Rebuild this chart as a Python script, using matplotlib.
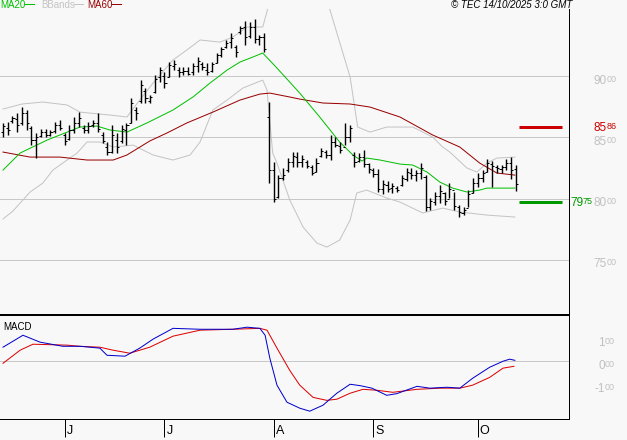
import numpy as np
import pandas as pd
import matplotlib as mpl
mpl.use('Agg')
import matplotlib.pyplot as plt
from matplotlib.lines import Line2D

plt.rcParams['font.family'] = ['Liberation Sans', 'DejaVu Sans']

PX = 0.72  # points per pixel at dpi 100
W, H = 627, 440

# daily bars, 14 May -> 13 Oct 2025
dates = pd.bdate_range("2025-05-14", "2025-10-13")

opens = [8540, 8580, 8630, 8650, 8620, 8700, 8580, 8480, 8510, 8540,
         8520, 8550, 8600, 8520, 8490, 8560, 8620, 8580, 8560, 8600,
         8620, 8520, 8420, 8380, 8480, 8470, 8560, 8620, 8720, 8800,
         8880, 8800, 8870, 8990, 9000, 8990, 9080, 9050, 9030, 9040,
         9030, 9080, 9100, 9050, 9040, 9110, 9170, 9240, 9280, 9240,
         9360, 9400, 9330, 9400, 9300, 9320, 8670, 8230, 8010, 8170,
         8230, 8300, 8340, 8300, 8300, 8260, 8220, 8350, 8380, 8360,
         8460, 8430, 8420, 8500, 8360, 8310, 8340, 8280, 8230, 8200,
         8080, 8110, 8090, 8090, 8110, 8160, 8210, 8190, 8210, 8180,
         7930, 7970, 8020, 8050, 8000, 8070, 7930, 7880, 7920, 8050,
         8130, 8170, 8220, 8280, 8260, 8240, 8260, 8290, 8240]
highs = [8617, 8625, 8674, 8698, 8747, 8723, 8592, 8535, 8568, 8568,
         8560, 8625, 8641, 8535, 8600, 8666, 8706, 8600, 8625, 8641,
         8698, 8543, 8462, 8600, 8535, 8600, 8617, 8821, 8747, 8967,
         8902, 8845, 9008, 9073, 9033, 9114, 9131, 9073, 9073, 9073,
         9106, 9155, 9114, 9106, 9114, 9188, 9237, 9294, 9351, 9253,
         9408, 9449, 9441, 9465, 9334, 9351, 8788, 8299, 8192, 8250,
         8331, 8380, 8380, 8356, 8315, 8274, 8331, 8413, 8396, 8519,
         8502, 8462, 8617, 8600, 8380, 8372, 8396, 8290, 8250, 8242,
         8152, 8144, 8127, 8103, 8192, 8250, 8250, 8233, 8290, 8192,
         8005, 8054, 8111, 8054, 8127, 8054, 7948, 7931, 8070, 8168,
         8209, 8233, 8323, 8307, 8274, 8274, 8323, 8339, 8274]
lows = [8502, 8519, 8617, 8543, 8600, 8560, 8437, 8331, 8502, 8502,
        8510, 8535, 8560, 8437, 8478, 8535, 8584, 8535, 8535, 8584,
        8543, 8454, 8356, 8372, 8372, 8454, 8437, 8617, 8641, 8780,
        8780, 8780, 8861, 8951, 8902, 8992, 9049, 8992, 9008, 9008,
        9008, 9033, 9049, 9008, 9033, 9106, 9155, 9228, 9228, 9155,
        9343, 9253, 9310, 9269, 9253, 9196, 8127, 7972, 8005, 8152,
        8217, 8258, 8258, 8258, 8250, 8192, 8217, 8339, 8331, 8315,
        8421, 8372, 8437, 8462, 8258, 8299, 8258, 8209, 8176, 8054,
        8038, 8054, 8046, 8054, 8103, 8144, 8160, 8144, 8160, 7899,
        7907, 7948, 7964, 7948, 8005, 7907, 7850, 7866, 7931, 8046,
        8095, 8135, 8217, 8095, 8209, 8209, 8233, 8160, 8062]
closes = [8590, 8560, 8660, 8600, 8700, 8620, 8480, 8500, 8540, 8520,
          8545, 8600, 8580, 8470, 8560, 8620, 8660, 8560, 8590, 8620,
          8570, 8470, 8380, 8520, 8420, 8570, 8600, 8780, 8700, 8930,
          8820, 8830, 8980, 9050, 8940, 9090, 9100, 9030, 9040, 9020,
          9080, 9120, 9070, 9030, 9100, 9170, 9220, 9270, 9310, 9200,
          9390, 9320, 9400, 9300, 9320, 9220, 8230, 8000, 8170, 8190,
          8300, 8350, 8300, 8320, 8270, 8210, 8290, 8390, 8360, 8460,
          8440, 8400, 8500, 8580, 8300, 8340, 8280, 8240, 8200, 8080,
          8120, 8080, 8100, 8070, 8170, 8220, 8190, 8210, 8250, 7930,
          7980, 8020, 8060, 7980, 8080, 7940, 7890, 7910, 8040, 8130,
          8170, 8210, 8290, 8270, 8250, 8260, 8290, 8230, 8120]

# indicator lines (bar index, value)
ma20_x = [0, 3.6, 9.3, 16.2, 19.8, 22.5, 26.1, 30.3, 35.8, 40, 43.6, 47.2,
          49.9, 52.6, 54.7, 57.7, 62.5, 66.7, 70.9, 73.7, 75.6, 76.6, 79.4,
          83.6, 86.3, 89.3, 92, 94.7, 97.7, 100.4, 101.9, 107.8]
ma20_y = [8233, 8372, 8478, 8584, 8592, 8560, 8543, 8617, 8723, 8829, 8943, 9049,
          9114, 9155, 9188, 9065, 8861, 8666, 8462, 8356, 8307, 8331, 8315,
          8282, 8274, 8217, 8135, 8086, 8054, 8070, 8086, 8086]

ma60_x = [0, 5.7, 12, 17.7, 23.2, 26.1, 30.9, 34.5, 38.7, 44.2, 49.9, 54.1,
          56.2, 60.4, 62.5, 67.4, 73.1, 77.3, 83.6, 90.5, 96.2, 100.4, 104, 107.8]
ma60_y = [8380, 8339, 8339, 8315, 8315, 8356, 8470, 8535, 8617, 8706, 8804, 8853,
          8861, 8829, 8812, 8780, 8772, 8747, 8666, 8519, 8421, 8290, 8209, 8192]

bbu_x = [0, 4, 8.4, 13.5, 16.2, 20.4, 22.5, 26.1, 28.8, 31.6, 35.8, 38.7, 41.5,
         45.7, 48.4, 51.4, 54.7, 55.8, 62.5, 68.8, 73.1, 74.7, 77.3, 80.8, 86.3,
         90.5, 92.6, 94.1, 97.7, 99.8, 101.9, 104, 107.8]
bbu_y = [8731, 8772, 8788, 8764, 8706, 8690, 8682, 8666, 8804, 8943, 9131, 9212, 9294,
         9277, 9318, 9400, 9400, 9555, 10030, 9547, 8992, 8584, 8543, 8584, 8584,
         8502, 8421, 8380, 8250, 8217, 8290, 8331, 8339]

bbl_x = [0, 2.1, 4.2, 5.7, 8.4, 10.5, 13.5, 15.6, 17.7, 20.4, 23.2, 27.4, 31.6,
         35.8, 39.4, 41.5, 44.2, 47.2, 50.5, 54.7, 55.6, 56.8, 57.7, 60.4, 63.2,
         66.1, 68.2, 70.9, 73.1, 74.5, 76.6, 80.8, 83.6, 88.4, 92.6, 96.2, 101.9, 107.8]
bbl_y = [7834, 7899, 7989, 8054, 8127, 8233, 8315, 8372, 8462, 8462, 8421, 8437, 8356,
         8315, 8356, 8462, 8723, 8804, 8902, 8967, 8886, 8372, 8290, 7989, 7768,
         7638, 7605, 7662, 7825, 8046, 8070, 8005, 7972, 7883, 7923, 7891, 7866, 7850]

macd_x = [0, 4.2, 7.8, 12.6, 16.2, 20.4, 21.9, 25.7, 28.8, 31.6, 35.8, 41.5, 48.4,
          51.4, 54.1, 55.2, 56.2, 57.7, 59.8, 62.5, 64.6, 67.4, 70.3, 73.1, 75.2,
          77.7, 80.8, 82.9, 87.2, 89.9, 93.5, 96.2, 98.9, 102.5, 105.3, 106.7, 107.8]
macd_y = [61, 113, 83, 65, 65, 57, 26, 22, 57, 96, 143, 139, 139,
          148, 143, 113, 13, -104, -178, -204, -217, -191, -139, -100, -106,
          -117, -148, -141, -109, -117, -113, -117, -74, -26, 0, 9, 4]

sig_x = [0, 3.6, 6.3, 13.5, 16.2, 20.4, 23.2, 26.7, 30.9, 35.8, 41.5, 48.4, 54.1,
         55.6, 57.7, 60.4, 62.5, 65.3, 68.2, 70.3, 73.1, 75.8, 78.7, 82.1, 87.2,
         92, 96.2, 98.9, 102.5, 105.3, 107.6]
sig_y = [-9, 48, 74, 70, 65, 61, 48, 35, 61, 109, 135, 139, 143,
         135, 57, -40, -104, -157, -170, -165, -139, -122, -126, -135, -122,
         -117, -117, -104, -70, -30, -22]

price_levels = [7500, 8000, 8500, 9000]
macd_levels = [100, 0, -100]
resistance = 8586
support = 7975

GRID = '#c8c8c8'
BG = '#f8f8f8'

fig = plt.figure(figsize=(W / 100, H / 100), dpi=100, facecolor=BG)
ax = fig.add_axes([0, (H - 314) / H, 569 / W, (314 - 9) / H], facecolor=BG)
axm = fig.add_axes([0, (H - 419) / H, 569 / W, (419 - 315) / H], facecolor=BG)

idx = np.arange(len(dates))
lw = 1 * PX

for lev in price_levels:
    ax.axhline(lev, color=GRID, lw=lw, zorder=1)

ax.plot(bbu_x, bbu_y, color='#c4c4c4', lw=lw, zorder=2)
ax.plot(bbl_x, bbl_y, color='#c4c4c4', lw=lw, zorder=2)
ax.plot(ma60_x, ma60_y, color='#990000', lw=lw, zorder=3)
ax.plot(ma20_x, ma20_y, color='#00c000', lw=lw, zorder=3)

ax.vlines(idx, lows, highs, color='black', lw=lw * 1.4, zorder=4)
ax.hlines(opens, idx - 0.45, idx, color='black', lw=lw, zorder=4)
ax.hlines(closes, idx, idx + 0.45, color='black', lw=lw, zorder=4)

ax.hlines(resistance, 108.6, 117.7, color='#cc0000', lw=3 * PX, zorder=5)
ax.hlines(support, 108.6, 117.7, color='#009900', lw=3 * PX, zorder=5)

ax.set_xlim(-0.63, 119.2)
ax.set_ylim(7059, 9547)
ax.set_xticks([])
ax.set_yticks([])
for s in ['top', 'left', 'bottom']:
    ax.spines[s].set_visible(False)
ax.spines['right'].set_linewidth(lw)


def right_label(a, value, big, small, color, x_px, dy_px):
    a.annotate(big, xy=(1, value), xycoords=('axes fraction', 'data'),
               xytext=(x_px * PX, -dy_px * PX), textcoords='offset points',
               ha='right', va='center', fontsize=8.5, color=color, annotation_clip=False)
    a.annotate(small, xy=(1, value), xycoords=('axes fraction', 'data'),
               xytext=(x_px * PX, (-dy_px + 1.5) * PX), textcoords='offset points',
               ha='left', va='center', fontsize=6.5, color=color, annotation_clip=False)


for lev in price_levels:
    s = str(lev)
    right_label(ax, lev, s[:2], s[2:], '#c0c0c0', 38, 4.5)
right_label(ax, resistance, str(resistance)[:2], str(resistance)[2:], '#cc0000', 38, 1)
right_label(ax, support, str(support)[:2], str(support)[2:], '#009900', 14, 1.5)

# MACD panel
axm.axhline(0, color=GRID, lw=lw, zorder=1)
axm.plot(sig_x, sig_y, color='#dd0000', lw=lw, zorder=3)
axm.plot(macd_x, macd_y, color='#0000cc', lw=lw, zorder=3)
axm.set_xlim(-0.63, 119.2)
axm.set_ylim(-251, 201)
axm.set_yticks([])
axm.spines['left'].set_visible(False)
axm.spines['top'].set_linewidth(2 * PX)
axm.spines['right'].set_linewidth(lw)
axm.spines['bottom'].set_linewidth(lw)
axm.text(0.006, 0.93, 'MACD', transform=axm.transAxes, fontsize=7, va='top', ha='left')

for lev in macd_levels:
    big = '-1' if lev < 0 else ('1' if lev > 0 else '0')
    right_label(axm, lev, big, '00', '#c0c0c0', 36, 4.5)

months = dates.to_period('M')
starts = [i for i in range(1, len(dates)) if months[i] != months[i - 1]]
axm.set_xticks(starts)
axm.set_xticklabels([])
axm.tick_params(axis='x', direction='out', length=18 * PX, width=lw, color='black')
for i in starts:
    axm.annotate(dates[i].strftime('%b')[0], xy=(i, 0), xycoords=('data', 'axes fraction'),
                 xytext=(2 * PX, -18 * PX), textcoords='offset points',
                 ha='left', va='bottom', fontsize=9, annotation_clip=False)

# legend strip and stamp
def fx(x):
    return x / W


def fy(y):
    return 1 - y / H


legend = [('MA20', '#00c000', 0, 25), ('BBands', '#c4c4c4', 41, 74), ('MA60', '#990000', 87, 112)]
for name, col, tx, lx in legend:
    fig.text(fx(tx), fy(4.5), name, color=col, fontsize=7, va='center', ha='left')
    fig.add_artist(Line2D([fx(lx), fx(lx + 9)], [fy(4.5), fy(4.5)], color=col, lw=lw))

fig.text(fx(572), fy(4.5), '\u00a9 TEC 14/10/2025 3:0 GMT', fontsize=7, style='italic',
         ha='right', va='center')

fig.savefig('out.png', dpi=100, facecolor=BG)
